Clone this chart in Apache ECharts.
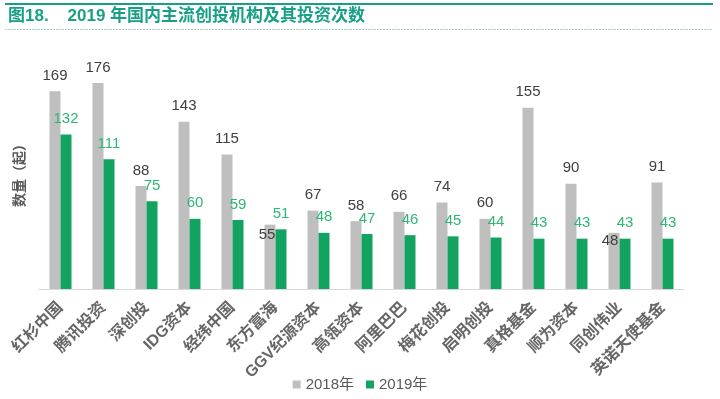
<!DOCTYPE html>
<html>
<head>
<meta charset="utf-8">
<script src="https://cdn.jsdelivr.net/npm/echarts@6/dist/echarts.min.js"></script>
<style>
  html, body { margin: 0; padding: 0; background: #fff; }
  #chart { width: 720px; height: 399px; }
</style>
</head>
<body>
<div id="chart"></div>
<script>
// 机构名称
const orgs = ['红杉中国', '腾讯投资', '深创投', 'IDG资本', '经纬中国', '东方富海', 'GGV纪源资本', '高瓴资本',
  '阿里巴巴', '梅花创投', '启明创投', '真格基金', '顺为资本', '同创伟业', '英诺天使基金'];
// 投资次数
const y2018 = [169, 176, 88, 143, 115, 55, 67, 58, 66, 74, 60, 155, 90, 48, 91];
const y2019 = [132, 111, 75, 60, 59, 51, 48, 47, 46, 45, 44, 43, 43, 43, 43];
const seriesNames = ['2018年', '2019年'];

const FONT = "'Liberation Sans','Noto Sans CJK SC',sans-serif";
const TEAL = '#17a084';

// 原图里有两个2018标签被挪到了柱子里面
const labelShift = { 5: [-3, 26], 13: [-4, 24] };

const chart = echarts.init(document.getElementById('chart'));
chart.setOption({
  animation: false,
  textStyle: { fontFamily: FONT },
  graphic: [
    { type: 'line', shape: { x1: 5, y1: 4, x2: 713, y2: 4 }, style: { stroke: TEAL, lineWidth: 2 } },
    { type: 'text', left: 8, top: 8,
      style: { text: '图18.    2019 年国内主流创投机构及其投资次数', fill: TEAL,
        font: "bold 17px 'Liberation Sans','Noto Sans CJK SC',sans-serif" } },
    { type: 'line', shape: { x1: 5, y1: 29.5, x2: 713, y2: 29.5 },
      style: { stroke: '#a9cfc6', lineWidth: 1, lineDash: [2, 1] } }
  ],
  legend: {
    data: seriesNames,
    top: 372,
    left: 'center',
    itemWidth: 8,
    itemHeight: 8,
    itemGap: 12,
    icon: 'rect',
    textStyle: { fontSize: 15, color: '#595959', fontFamily: FONT }
  },
  grid: { left: 39, right: 36, top: 55, bottom: 110 },
  xAxis: {
    type: 'category',
    data: orgs,
    axisLine: { lineStyle: { color: '#d9d9d9', width: 1 } },
    axisTick: { show: false },
    axisLabel: { rotate: 45, interval: 0, margin: 16, fontSize: 16, color: '#666', fontWeight: 'bold' }
  },
  yAxis: {
    type: 'value',
    min: 0,
    max: 200,
    name: '数量（起）',
    nameLocation: 'middle',
    nameGap: 12,
    nameTextStyle: { fontSize: 14, fontWeight: 'bold', color: '#595959' },
    axisLine: { show: false },
    axisTick: { show: false },
    axisLabel: { show: false },
    splitLine: { show: false }
  },
  series: [
    {
      name: seriesNames[0],
      type: 'bar',
      barWidth: 11,
      barGap: '0%',
      itemStyle: { color: '#bfbfbf' },
      label: { show: true, position: 'top', distance: 8, fontSize: 15, color: '#404040' },
      data: y2018.map((v, i) => labelShift[i] ? { value: v, label: { offset: labelShift[i] } } : v)
    },
    {
      name: seriesNames[1],
      type: 'bar',
      barWidth: 11,
      itemStyle: { color: '#12a361' },
      label: { show: true, position: 'top', distance: 8, fontSize: 15, color: '#2eb774' },
      data: y2019
    }
  ]
});
</script>
</body>
</html>
